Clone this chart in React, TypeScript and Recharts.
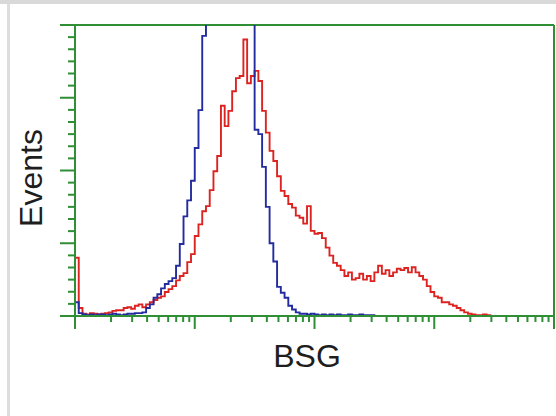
import React from 'react';
import { LineChart, Line, XAxis, YAxis, ReferenceLine } from 'recharts';

// histogram channels, 32 per decade (4 decades, log axis)
const channels = Array.from({ length: 128 }, (_, i) => i);

// red: BSG antibody
const redCounts = [
  80, 11, 3, 2, 4, 3, 2, 3, 4, 5,
  7, 8, 8, 11, 12, 10, 14, 16, 12, 16,
  19, 22, 25, 27, 33, 37, 41, 49, 55, 59,
  74, 85, 110, 126, 144, 151, 173, 199, 220, 289,
  261, 282, 309, 327, 330, 380, 320, 330, 337, 323,
  282, 252, 227, 213, 192, 172, 165, 154, 149, 138,
  135, 127, 151, 117, 113, 114, 107, 94, 83, 73,
  69, 63, 55, 60, 50, 52, 58, 50, 55, 48,
  60, 69, 58, 63, 55, 60, 65, 63, 66, 60,
  67, 60, 55, 50, 41, 33, 27, 25, 19, 19,
  16, 14, 11, 8, 5, 3, 2, 1, 1, 2,
  1, 0, 0, 0, 0, 0, 0, 0, 0, 0,
  0, 0, 0, 0, 0, 0, 0, 0,
];

// blue: isotype control
const blueCounts = [
  19, 4, 2, 1, 2, 1, 2, 2, 1, 2,
  3, 2, 1, 2, 3, 3, 4, 4, 5, 11,
  16, 25, 30, 38, 44, 48, 52, 69, 99, 137,
  159, 186, 231, 283, 385, 430, 460, 490, 520, 540,
  560, 570, 560, 540, 520, 500, 480, 450, 256, 250,
  205, 150, 100, 75, 40, 32, 25, 14, 9, 5,
  3, 3, 2, 3, 2, 1, 2, 1, 2, 1,
  2, 1, 1, 2, 1, 1, 2, 1, 1, 1,
  0, 0, 0, 0, 0, 0, 0, 0, 0, 0,
  0, 0, 0, 0, 0, 0, 0, 0, 0, 0,
  0, 0, 0, 0, 0, 0, 0, 0, 0, 0,
  0, 0, 0, 0, 0, 0, 0, 0, 0, 0,
  0, 0, 0, 0, 0, 0, 0, 0,
];

const yMax = 400;
const yTicks = Array.from({ length: 25 }, (_, i) => (i * yMax) / 24);
const xTicks: number[] = [];
for (let d = 0; d < 4; d++) {
  for (let k = 1; k <= 9; k++) xTicks.push(32 * (d + Math.log10(k)));
}
xTicks.push(128);

const GREEN = '#2f8f35';

const data = channels.map((ch, i) => ({ ch, red: redCounts[i], blue: blueCounts[i] }));

const YTick = (props: any) => {
  const { x, y, index } = props;
  const len = index % 6 === 0 ? 15 : 7;
  return <line x1={x} y1={y} x2={x - len} y2={y} stroke={GREEN} strokeWidth={2} />;
};

const XTick = (props: any) => {
  const { x, y, payload } = props;
  const v = payload.value / 32;
  const major = Math.abs(v - Math.round(v)) < 1e-6;
  const len = major ? 13 : 6;
  return <line x1={x} y1={y} x2={x} y2={y + len} stroke={GREEN} strokeWidth={2} />;
};

export default function App() {
  return (
    <div style={{ position: 'absolute', left: 0, top: 0, width: 556, height: 416, background: '#fff', overflow: 'hidden' }}>
      <div style={{ position: 'absolute', left: 0, top: 0, width: 556, height: 4, background: '#d9d9d9' }} />
      <div style={{ position: 'absolute', left: 7, top: 4, width: 3, height: 412, background: '#dddddd' }} />
      <LineChart width={556} height={416} data={data} margin={{ top: 25, right: 2, bottom: 70, left: 55 }}>
        <XAxis
          dataKey="ch"
          type="number"
          domain={[0, 128]}
          ticks={xTicks}
          interval={0}
          height={30}
          tickSize={0}
          tickMargin={0}
          tick={<XTick />}
          axisLine={{ stroke: GREEN, strokeWidth: 2 }}
        />
        <YAxis
          type="number"
          domain={[0, yMax]}
          ticks={yTicks}
          interval={0}
          allowDataOverflow
          width={20}
          tickSize={0}
          tickMargin={0}
          tick={<YTick />}
          axisLine={{ stroke: GREEN, strokeWidth: 2 }}
        />
        <ReferenceLine x={128} stroke={GREEN} strokeWidth={2} />
        <ReferenceLine y={yMax} stroke={GREEN} strokeWidth={2} />
        <Line type="stepAfter" dataKey="red" stroke="#dc2320" strokeWidth={1.9} dot={false} isAnimationActive={false} />
        <Line type="stepAfter" dataKey="blue" stroke="#232c9e" strokeWidth={1.9} dot={false} isAnimationActive={false} />
      </LineChart>
      <div
        style={{
          position: 'absolute', left: 31, top: 178, transform: 'translate(-50%, -50%) rotate(-90deg)',
          fontFamily: '"Liberation Sans", Arial, sans-serif', fontSize: 32, lineHeight: 1, color: '#1e1e1e', whiteSpace: 'nowrap',
        }}
      >
        Events
      </div>
      <div
        style={{
          position: 'absolute', left: 307, top: 356, transform: 'translate(-50%, -50%)',
          fontFamily: '"Liberation Sans", Arial, sans-serif', fontSize: 32, lineHeight: 1, color: '#1e1e1e', whiteSpace: 'nowrap',
        }}
      >
        BSG
      </div>
    </div>
  );
}
